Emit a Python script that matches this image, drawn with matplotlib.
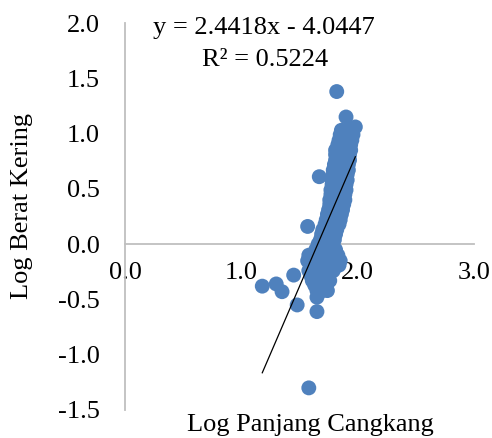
import matplotlib
matplotlib.use("Agg")
import matplotlib.pyplot as plt
import numpy as np

plt.rcParams['font.family'] = ['Liberation Serif', 'DejaVu Serif']
plt.rcParams['axes.unicode_minus'] = False

# Data (log shell length vs log dry weight)
log_length = [
    1.82, 1.90, 1.98,
    1.86, 1.91, 1.94,
    1.85, 1.89, 1.93, 1.96,
    1.84, 1.88, 1.92, 1.95,
    1.83, 1.87, 1.91, 1.94,
    1.81, 1.85, 1.89, 1.94,
    1.81, 1.85, 1.89, 1.93,
    1.81, 1.85, 1.89, 1.93,
    1.80, 1.84, 1.88, 1.92,
    1.79, 1.83, 1.87, 1.92,
    1.79, 1.83, 1.87, 1.91,
    1.67,
    1.78, 1.82, 1.86, 1.91,
    1.78, 1.82, 1.86, 1.90,
    1.77, 1.81, 1.85, 1.90,
    1.77, 1.81, 1.85, 1.89,
    1.76, 1.80, 1.84, 1.89,
    1.76, 1.80, 1.84, 1.88,
    1.75, 1.79, 1.83, 1.87,
    1.74, 1.78, 1.82, 1.86,
    1.73, 1.77, 1.81, 1.85,
    1.72, 1.76, 1.80, 1.84,
    1.57,
    1.70, 1.74, 1.78, 1.82,
    1.69, 1.73, 1.77, 1.81,
    1.68, 1.72, 1.76, 1.80,
    1.66, 1.70, 1.74, 1.78,
    1.64, 1.68, 1.72, 1.76, 1.81,
    1.58, 1.63, 1.68, 1.73, 1.78, 1.83,
    1.57, 1.62, 1.67, 1.72, 1.78, 1.85,
    1.60, 1.65, 1.70, 1.75, 1.80, 1.84,
    1.58, 1.63, 1.68, 1.73, 1.79,
    1.45,
    1.60, 1.65, 1.70, 1.75,
    1.61, 1.66, 1.72, 1.76,
    1.63, 1.68, 1.73,
    1.18, 1.30, 1.35,
    1.65, 1.70, 1.74,
    1.65, 1.48, 1.65, 1.58,
]
log_weight = [
    1.38, 1.15, 1.06,
    1.03, 1.03, 1.03,
    0.99, 0.99, 0.99, 0.99,
    0.94, 0.94, 0.94, 0.94,
    0.90, 0.90, 0.90, 0.90,
    0.85, 0.85, 0.85, 0.85,
    0.81, 0.81, 0.81, 0.81,
    0.76, 0.76, 0.76, 0.76,
    0.72, 0.72, 0.72, 0.72,
    0.67, 0.67, 0.67, 0.67,
    0.63, 0.63, 0.63, 0.63,
    0.61,
    0.58, 0.58, 0.58, 0.58,
    0.54, 0.54, 0.54, 0.54,
    0.49, 0.49, 0.49, 0.49,
    0.45, 0.45, 0.45, 0.45,
    0.40, 0.40, 0.40, 0.40,
    0.36, 0.36, 0.36, 0.36,
    0.31, 0.31, 0.31, 0.31,
    0.27, 0.27, 0.27, 0.27,
    0.22, 0.22, 0.22, 0.22,
    0.18, 0.18, 0.18, 0.18,
    0.16,
    0.13, 0.13, 0.13, 0.13,
    0.09, 0.09, 0.09, 0.09,
    0.04, 0.04, 0.04, 0.04,
    0.00, 0.00, 0.00, 0.00,
    -0.05, -0.05, -0.05, -0.05, -0.05,
    -0.10, -0.10, -0.10, -0.10, -0.10, -0.10,
    -0.15, -0.15, -0.15, -0.15, -0.15, -0.15,
    -0.19, -0.19, -0.19, -0.19, -0.19, -0.19,
    -0.24, -0.24, -0.24, -0.24, -0.24,
    -0.28,
    -0.29, -0.29, -0.29, -0.29,
    -0.33, -0.33, -0.33, -0.33,
    -0.37, -0.37, -0.37,
    -0.38, -0.36, -0.43,
    -0.42, -0.42, -0.42,
    -0.48, -0.55, -0.61, -1.30,
]
slope = 2.4418
intercept = -4.0447
r_squared = 0.5224
x_ticks = [0.0, 1.0, 2.0, 3.0]
y_ticks = [-1.5, -1.0, -0.5, 0.0, 0.5, 1.0, 1.5, 2.0]

W, H = 492, 438
FS = 19
fig = plt.figure(figsize=(W / 100, H / 100), dpi=100)
ax = fig.add_axes([125 / W, 1 - 410 / H, 349 / W, 387 / H])

ax.scatter(log_length, log_weight, s=115, color='#4F81BD', edgecolors='none', zorder=3)

xs = np.array([min(log_length), max(log_length)])
ax.plot(xs, slope * xs + intercept, color='black', lw=0.9, zorder=4)

ax.set_xlim(0, 3.0)
ax.set_ylim(-1.5, 2.0)
ax.set_xticks(x_ticks)
ax.set_yticks(y_ticks)
ax.set_xticklabels([f"{v:.1f}" for v in x_ticks])
ax.set_yticklabels([f"{v:.1f}" for v in y_ticks])

for s in ['top', 'right']:
    ax.spines[s].set_visible(False)
ax.spines['bottom'].set_position(('data', 0))
for s in ['left', 'bottom']:
    ax.spines[s].set_color('#BFBFBF')
    ax.spines[s].set_linewidth(1.3)
    ax.spines[s].set_zorder(2)

ax.tick_params(axis='both', length=0, labelsize=FS, colors='black')
ax.tick_params(axis='x', pad=13)
ax.tick_params(axis='y', pad=18)

fig.text(310 / W, 1 - 425 / H, 'Log Panjang Cangkang', ha='center', va='center', fontsize=FS)
fig.text(22 / W, 1 - 206 / H, 'Log Berat Kering', ha='center', va='center', rotation=90, fontsize=FS)
fig.text(264 / W, 1 - 28 / H, f'y = {slope}x - {abs(intercept)}', ha='center', va='center', fontsize=FS)
fig.text(265 / W, 1 - 60 / H, f'R² = {r_squared}', ha='center', va='center', fontsize=FS)

fig.savefig('out.png', dpi=100)
